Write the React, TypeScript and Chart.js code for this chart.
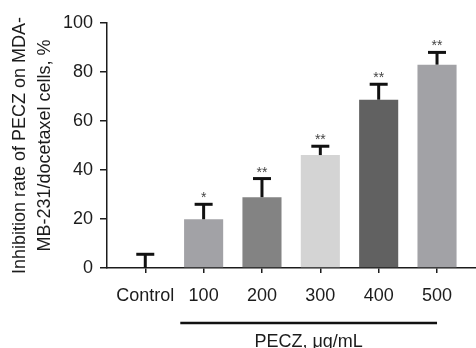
import React, { useEffect, useRef } from "react";
import { Chart, registerables } from "chart.js";

Chart.register(...registerables);

const categories = ["Control", "100", "200", "300", "400", "500"];
const means = [0, 19.9, 28.9, 46.1, 68.7, 83.0];
const errors = [5.6, 6.1, 7.6, 3.6, 6.3, 5.0];
const significance = ["", "*", "**", "**", "**", "**"];
const barColors = ["#a2a2a6", "#a2a2a6", "#838383", "#d4d4d4", "#616161", "#a2a2a6"];
const yTicks = [0, 20, 40, 60, 80, 100];
const yTitleLines = ["Inhibition rate of PECZ on MDA-", "MB-231/docetaxel cells, %"];
const bracketLabel = "PECZ, μg/mL";
const bracketRange = [0.6, 5];

const FONT = '"Liberation Sans", Arial, Helvetica, sans-serif';
const INK = "#1c1c1c";

const overlayPlugin = {
  id: "overlay",
  afterDatasetsDraw(chart: any) {
    const ctx = chart.ctx;
    const meta = chart.getDatasetMeta(0);
    const yScale = chart.scales.y;
    const xScale = chart.scales.x;
    ctx.save();
    meta.data.forEach((el: any, i: number) => {
      const x = el.x;
      const base = yScale.getPixelForValue(means[i]);
      const top = yScale.getPixelForValue(means[i] + errors[i]);
      ctx.strokeStyle = "#111";
      ctx.lineWidth = 3;
      ctx.beginPath();
      ctx.moveTo(x, base);
      ctx.lineTo(x, top);
      ctx.stroke();
      ctx.beginPath();
      ctx.moveTo(x - 9, top);
      ctx.lineTo(x + 9, top);
      ctx.stroke();
      if (significance[i]) {
        ctx.fillStyle = "#444";
        ctx.font = `14px ${FONT}`;
        ctx.textAlign = "center";
        ctx.textBaseline = "alphabetic";
        ctx.fillText(significance[i], x, top - 2);
      }
    });
    const area = chart.chartArea;
    const cy = (area.top + area.bottom) / 2;
    ctx.fillStyle = INK;
    ctx.font = `18px ${FONT}`;
    ctx.textAlign = "center";
    ctx.textBaseline = "alphabetic";
    const baselines = [25, 50];
    yTitleLines.forEach((line, i) => {
      ctx.save();
      ctx.translate(baselines[i], cy);
      ctx.rotate(-Math.PI / 2);
      ctx.fillText(line, 0, 0);
      ctx.restore();
    });
    const bx0 = xScale.getPixelForValue(bracketRange[0]);
    const bx1 = xScale.getPixelForValue(bracketRange[1]);
    const by = area.bottom + 55;
    ctx.strokeStyle = "#111";
    ctx.lineWidth = 2.5;
    ctx.beginPath();
    ctx.moveTo(bx0, by);
    ctx.lineTo(bx1, by);
    ctx.stroke();
    ctx.fillStyle = INK;
    ctx.font = `18px ${FONT}`;
    ctx.textAlign = "center";
    ctx.fillText(bracketLabel, (bx0 + bx1) / 2, by + 24);
    ctx.restore();
  },
};

export default function App() {
  const ref = useRef<HTMLCanvasElement | null>(null);
  useEffect(() => {
    if (!ref.current) return;
    const chart = new Chart(ref.current, {
      type: "bar",
      data: {
        datasets: [
          {
            data: means.map((m, i) => ({ x: i, y: m })),
            backgroundColor: barColors,
            borderWidth: 0,
            categoryPercentage: 1,
            barPercentage: 0.67,
          },
        ],
      },
      options: {
        responsive: false,
        animation: false,
        devicePixelRatio: 1,
        layout: { padding: { top: 23, left: 0, right: 0, bottom: 0 } },
        plugins: { legend: { display: false }, tooltip: { enabled: false } },
        scales: {
          x: {
            type: "linear",
            offset: false,
            bounds: "data",
            min: -0.656,
            max: 5.668,
            afterBuildTicks: (axis: any) => {
              axis.ticks = categories.map((_, i) => ({ value: i }));
            },
            afterFit: (s: any) => {
              s.height = 80;
              s.paddingLeft = 0;
              s.paddingRight = 0;
            },
            grid: { offset: false, drawOnChartArea: false, drawTicks: true, tickLength: 5, color: INK, lineWidth: 1.5 },
            border: { display: true, color: INK, width: 1.5 },
            ticks: {
              autoSkip: false,
              maxRotation: 0,
              padding: 12,
              color: INK,
              font: { family: FONT, size: 18 },
              callback: (v: any) => categories[v as number] ?? "",
            },
          },
          y: {
            min: 0,
            max: 100,
            afterBuildTicks: (axis: any) => {
              axis.ticks = yTicks.map((v) => ({ value: v }));
            },
            afterFit: (s: any) => {
              s.width = 107;
              s.paddingTop = 0;
              s.paddingBottom = 0;
            },
            grid: { drawOnChartArea: false, drawTicks: true, tickLength: 7, color: INK, lineWidth: 1.5 },
            border: { display: true, color: INK, width: 1.5 },
            ticks: {
              padding: 7,
              color: INK,
              font: { family: FONT, size: 18 },
            },
          },
        },
      },
      plugins: [overlayPlugin],
    });
    return () => chart.destroy();
  }, []);
  return (
    <div style={{ position: "fixed", left: 0, top: 0, width: 476, height: 348, background: "#fff" }}>
      <canvas ref={ref} width={476} height={348} />
    </div>
  );
}
